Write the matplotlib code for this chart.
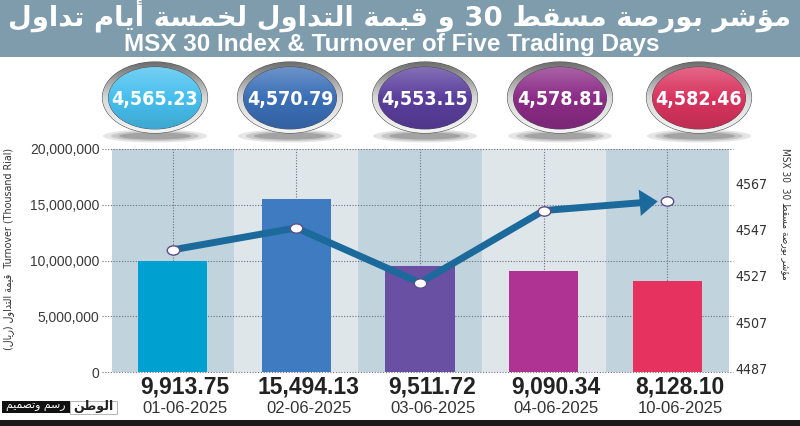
import re
import numpy as np
import matplotlib
matplotlib.use('Agg')
import matplotlib.pyplot as plt
import matplotlib.colors as mcolors
from matplotlib import font_manager as fm
from matplotlib.patches import Ellipse, Rectangle
from matplotlib.path import Path
from matplotlib.transforms import Affine2D

# ---- data ----
dates = ['01-06-2025', '02-06-2025', '03-06-2025', '04-06-2025', '10-06-2025']
turnover_k = [9913.75, 15494.13, 9511.72, 9090.34, 8128.10]      # shown under bars
msx_close = [4565.23, 4570.79, 4553.15, 4578.81, 4582.46]        # shown in buttons
msx_line = [4538.2, 4547.7, 4524.0, 4555.2, 4559.5]              # line as drawn on right axis
left_ticks = [0, 5000000, 10000000, 15000000, 20000000]
right_ticks = [4487, 4507, 4527, 4547, 4567]

bar_colors = ['#00a1d0', '#3f7bc0', '#6a50a3', '#ae3393', '#e5325f']
button_colors = ['#47bfee', '#3b6fb7', '#5b3f9d', '#8c2c87', '#d9345f']
LINE = '#1b6a9b'
BANNER = '#7f9cad'
BAND_DARK = '#c1d4de'
BAND_LIGHT = '#dfe6ea'
GRID = '#6f6f80'

# pick a condensed face if one is installed
narrow = [f for f in fm.fontManager.ttflist
          if 'Narrow' in f.name or 'Condensed' in f.name
          or f.stretch in ('condensed', 'semi-condensed', 'extra-condensed')
          or (isinstance(f.stretch, int) and f.stretch < 500)]
if narrow:
    NARROW = [narrow[0].name, 'DejaVu Sans']
else:
    NARROW = ['Roboto', 'DejaVu Sans']
SANS = ['Liberation Sans', 'DejaVu Sans']
plt.rcParams['font.family'] = SANS

# ---- tiny arabic shaper (presentation forms + visual order) ----
# iso, final, initial, medial
FORMS = {
    'ا': ('\uFE8D', '\uFE8E', None, None),
    'أ': ('\uFE83', '\uFE84', None, None),
    'ؤ': ('\uFE85', '\uFE86', None, None),
    'ة': ('\uFE93', '\uFE94', None, None),
    'د': ('\uFEA9', '\uFEAA', None, None),
    'ر': ('\uFEAD', '\uFEAE', None, None),
    'و': ('\uFEED', '\uFEEE', None, None),
    'ب': ('\uFE8F', '\uFE90', '\uFE91', '\uFE92'),
    'ت': ('\uFE95', '\uFE96', '\uFE97', '\uFE98'),
    'خ': ('\uFEA5', '\uFEA6', '\uFEA7', '\uFEA8'),
    'س': ('\uFEB1', '\uFEB2', '\uFEB3', '\uFEB4'),
    'ش': ('\uFEB5', '\uFEB6', '\uFEB7', '\uFEB8'),
    'ص': ('\uFEB9', '\uFEBA', '\uFEBB', '\uFEBC'),
    'ط': ('\uFEC1', '\uFEC2', '\uFEC3', '\uFEC4'),
    'ق': ('\uFED5', '\uFED6', '\uFED7', '\uFED8'),
    'ل': ('\uFEDD', '\uFEDE', '\uFEDF', '\uFEE0'),
    'م': ('\uFEE1', '\uFEE2', '\uFEE3', '\uFEE4'),
    'ن': ('\uFEE5', '\uFEE6', '\uFEE7', '\uFEE8'),
    'ي': ('\uFEF1', '\uFEF2', '\uFEF3', '\uFEF4'),
}


def ar(s):
    out = []
    for i, c in enumerate(s):
        if c not in FORMS:
            out.append(c)
            continue
        iso, fin, ini, med = FORMS[c]
        prev = s[i - 1] if i > 0 else ''
        nxt = s[i + 1] if i + 1 < len(s) else ''
        jp = prev in FORMS and FORMS[prev][2] is not None
        jn = ini is not None and nxt in FORMS
        if jp and jn:
            out.append(med)
        elif jp:
            out.append(fin)
        elif jn:
            out.append(ini)
        else:
            out.append(iso)
    vis = ''.join(out)[::-1]
    vis = re.sub(r'[0-9]+', lambda m: m.group(0)[::-1], vis)
    return vis.translate(str.maketrans('()', ')('))


def mix(c, other, t):
    a = np.array(mcolors.to_rgb(c))
    b = np.array(mcolors.to_rgb(other))
    return tuple(a * (1 - t) + b * t)


# ---- figure ----
W, H = 800, 426
fig = plt.figure(figsize=(W / 100, H / 100), dpi=100)
renderer = fig.canvas.get_renderer()


def fit(t, length_px):
    """scale a text's font so its long side is length_px"""
    bb = t.get_window_extent(renderer)
    t.set_fontsize(t.get_fontsize() * length_px / max(bb.width, bb.height))


px = lambda x0, y0, x1, y1: [x0 / W, 1 - y1 / H, (x1 - x0) / W, (y1 - y0) / H]

ax = fig.add_axes(px(112, 149, 733, 372))
ax2 = ax.twinx()
x = np.arange(len(dates))

for i in x:
    ax.axvspan(i - 0.5, i + 0.5, color=BAND_DARK if i % 2 == 0 else BAND_LIGHT, zorder=0, lw=0)

ax.bar(x, [v * 1000 for v in turnover_k], width=0.56, color=bar_colors, zorder=2)

for t in left_ticks:
    ax.axhline(t, xmin=-0.016, xmax=1, ls=(0, (1, 1.5)), lw=0.8, color=GRID, clip_on=False, zorder=1)
for i in x:
    ax.axvline(i, ls=(0, (1, 1.5)), lw=0.8, color=GRID, zorder=1)

ax.set_xlim(-0.49, 4.53)
ax.set_ylim(0, 20000000)
ax.set_yticks(left_ticks)
ax.set_yticklabels([f'{t:,}' for t in left_ticks])
ax.set_xticks([])
ax.tick_params(axis='y', length=0, pad=9, labelsize=10, labelcolor='#3a3a3a')

# index line with arrow
ell = Path.unit_circle().transformed(Affine2D().scale(1.35, 1.0))
ax2.plot(x[:4], msx_line[:4], color=LINE, lw=5.0, solid_joinstyle='miter', zorder=3)
ax2.annotate('', xy=(x[4], msx_line[4]), xytext=(x[3], msx_line[3]),
             arrowprops=dict(arrowstyle='simple,head_length=1.3,head_width=1.9,tail_width=0.5',
                             fc=LINE, ec='none', lw=0, shrinkA=0, shrinkB=7, mutation_scale=10),
             zorder=3)
ax2.plot(x, msx_line, ls='none', marker=ell, ms=9, mfc='white', mec='#5d4d8c', mew=1, zorder=4)
ax2.set_ylim(4485.4, 4581.8)
ax2.set_yticks(right_ticks)
ax2.set_yticklabels([str(t) for t in right_ticks])
ax2.tick_params(axis='y', length=0, pad=1.5, labelsize=11, labelcolor='#333333')
for lbl in ax2.get_yticklabels():
    lbl.set_family(NARROW)
    lbl.set_fontstretch('condensed')
    fit(lbl, 32)

for a in (ax, ax2):
    for s in a.spines.values():
        s.set_visible(False)

# values and dates under bars
for i in x:
    ax.annotate(f'{turnover_k[i]:,.2f}', xy=(i, 0), xycoords=('data', 'axes fraction'),
                xytext=(9, -11), textcoords='offset points', ha='center', va='center',
                fontsize=16.5, fontweight='bold', color='#222222')
    ax.annotate(dates[i], xy=(i, 0), xycoords=('data', 'axes fraction'),
                xytext=(9, -26), textcoords='offset points', ha='center', va='center',
                fontsize=12, color='#333333')

# ---- decorations overlay ----
ov = fig.add_axes([0, 0, 1, 1], zorder=5)
ov.set_xlim(0, W)
ov.set_ylim(H, 0)
ov.axis('off')
ov.patch.set_visible(False)

ov.add_patch(Rectangle((0, 0), W, 57, color=BANNER, lw=0))
title = ov.text(400, 16, ar('مؤشر بورصة مسقط 30 و قيمة التداول لخمسة أيام تداول'),
                ha='center', va='center', fontsize=23, fontweight='bold', color='white',
                family=['DejaVu Sans'])
fit(title, 784)
sub = ov.text(392, 45, 'MSX 30 Index & Turnover of Five Trading Days', ha='center', va='center',
              fontsize=14.5, fontweight='bold', color='white')
fit(sub, 535)

# glossy buttons with index values
btn_x = [155, 290, 425, 560, 699]
grad = np.linspace(0, 1, 64).reshape(-1, 1)
for cx, col, val in zip(btn_x, button_colors, msx_close):
    for k, a in enumerate([0.12, 0.16, 0.22]):
        ov.add_patch(Ellipse((cx, 136), 104 - 16 * k, 13 - 3 * k, color='#2a2a2a', alpha=a, lw=0))
    ring = Ellipse((cx, 97.5), 105, 71, fc='#9a9a9a', ec='#555555', lw=0.8)
    ov.add_patch(ring)
    rcmap = mcolors.LinearSegmentedColormap.from_list('r', ['#6e6e6e', '#d8d8d8', '#f4f4f4'])
    rim = ov.imshow(grad, cmap=rcmap, extent=(cx - 53, cx + 53, 133, 62), aspect='auto', zorder=1.5)
    rim.set_clip_path(ring)
    inner = Ellipse((cx, 98), 93, 62, fc=col, ec='#4a4a4a', lw=0.6, zorder=1.8)
    ov.add_patch(inner)
    cmap = mcolors.LinearSegmentedColormap.from_list(
        'b', [mix(col, 'white', 0.25), col, mix(col, 'black', 0.12)])
    im = ov.imshow(grad, cmap=cmap, extent=(cx - 47, cx + 47, 129, 67), aspect='auto', zorder=2)
    im.set_clip_path(inner)
    vt = ov.text(cx, 99, f'{val:,.2f}', ha='center', va='center', fontsize=18.5, fontweight='bold',
                 color='white', family=NARROW, fontstretch='condensed', zorder=3)
    fit(vt, 87)

# axis titles
yl = ov.text(9, 249, ar('قيمة التداول (ريال)') + '  Turnover (Thousand Rial)', rotation=90,
             ha='center', va='center', fontsize=8.5, color='#333333', family=NARROW,
             fontstretch='condensed')
fit(yl, 203)
yr = ov.text(786, 214, 'MSX 30  ' + ar('مؤشر بورصة مسقط 30'), rotation=-90,
             ha='center', va='center', fontsize=9, color='#333333', family=NARROW,
             fontstretch='condensed')
fit(yr, 132)

# logo and bottom strip
ov.add_patch(Rectangle((2, 401), 68, 12, color='#111111', lw=0))
ov.add_patch(Rectangle((70, 400.5), 47, 13, fc='white', ec='#aaaaaa', lw=0.6))
lg1 = ov.text(36, 407, ar('رسم وتصميم'), ha='center', va='center', fontsize=7, color='white',
              family=['DejaVu Sans'])
fit(lg1, 60)
lg2 = ov.text(93, 406.5, ar('الوطن'), ha='center', va='center', fontsize=8, fontweight='bold',
              color='#222222', family=['DejaVu Sans'])
fit(lg2, 40)
ov.add_patch(Rectangle((0, 420), W, 6, color='#1a1a1a', lw=0))

fig.savefig('out.png', dpi=100)
